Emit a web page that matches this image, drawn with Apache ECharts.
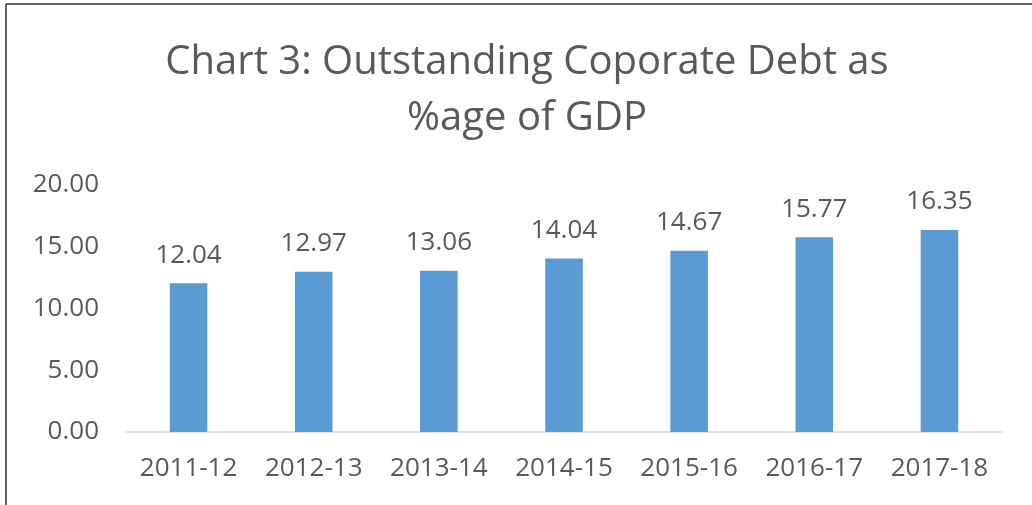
<!DOCTYPE html>
<html>
<head>
<meta charset="utf-8">
<script src="https://cdn.jsdelivr.net/npm/echarts@6/dist/echarts.min.js"></script>
<style>
  html, body { margin: 0; padding: 0; background: #fff; }
  #chart { width: 1032px; height: 505px; }
</style>
</head>
<body>
<div id="chart"></div>
<script>
// data
const years = ['2011-12', '2012-13', '2013-14', '2014-15', '2015-16', '2016-17', '2017-18'];
const debtPct = [12.04, 12.97, 13.06, 14.04, 14.67, 15.77, 16.35];

const font = '"Open Sans", "Noto Sans", sans-serif';
const grey = '#595959';

var chart = echarts.init(document.getElementById('chart'));
var option = {
  animation: false,
  textStyle: { fontFamily: font },
  title: {
    text: 'Chart 3: Outstanding Coporate Debt as\n%age of GDP',
    left: 522,
    textAlign: 'center',
    top: 30,
    textStyle: {
      fontFamily: font,
      fontSize: 40,
      fontWeight: 'normal',
      color: grey,
      lineHeight: 56
    }
  },
  grid: { left: 126, right: 30, top: 185, bottom: 73 },
  xAxis: {
    type: 'category',
    data: years,
    axisTick: { show: false },
    axisLine: { lineStyle: { color: '#d9d9d9', width: 1.5 } },
    axisLabel: { color: grey, fontSize: 26, margin: 24, interval: 0, fontFamily: font }
  },
  yAxis: {
    type: 'value',
    min: 0,
    max: 20,
    interval: 5,
    splitLine: { show: false },
    axisLine: { show: false },
    axisTick: { show: false },
    axisLabel: {
      color: grey,
      fontSize: 26,
      margin: 27,
      fontFamily: font,
      formatter: v => v.toFixed(2)
    }
  },
  series: [{
    type: 'bar',
    data: debtPct,
    barWidth: '30%',
    itemStyle: { color: '#5b9bd5' },
    label: {
      show: true,
      position: 'top',
      distance: 15,
      color: grey,
      fontSize: 26,
      fontFamily: font,
      formatter: p => p.value.toFixed(2)
    }
  }],
  graphic: [
    { type: 'line', shape: { x1: 6, y1: 4, x2: 6, y2: 505 }, style: { stroke: '#333', lineWidth: 1.5 } },
    { type: 'line', shape: { x1: 6, y1: 4, x2: 1032, y2: 4 }, style: { stroke: '#333', lineWidth: 1.5 } }
  ]
};
chart.setOption(option);
</script>
</body>
</html>
